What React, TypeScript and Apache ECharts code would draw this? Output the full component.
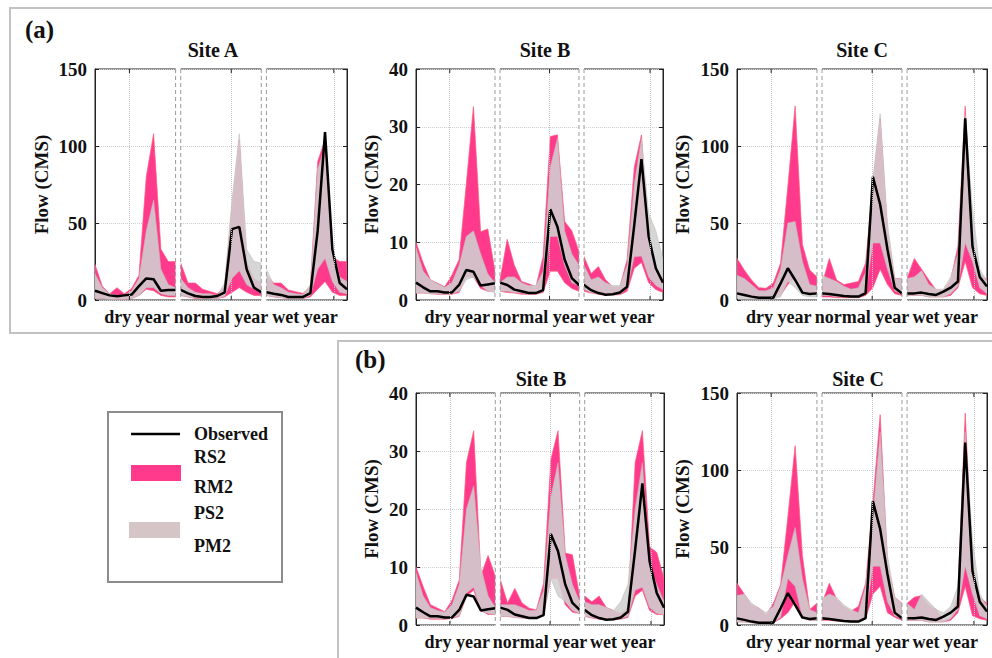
import React, { useEffect, useRef } from 'react';
import * as echarts from 'echarts';

const FONT = "'Liberation Serif', 'Times New Roman', Times, serif";
const PINK = '#ff3a8c';
const GREY_FILL = 'rgba(208,208,208,0.88)';
const YEAR_LABELS = ['dry year', 'normal year', 'wet year'];
const MONTHS = 12;
const YEAR_GAP = 0.7;
const X_MAX = 2 * (MONTHS - 1 + YEAR_GAP) + (MONTHS - 1);
// vertical reference lines (month axis units)
const MONTH_GRID_X = [4.7, 18.6, 32.6];

// ---------- Observed flow (dry, normal, wet years) ----------
const siteA_observed = [
  6, 4.5, 3, 2.5, 3, 3.5, 9, 14, 13.5, 6, 6.5, 6.5,
  6.5, 4.3, 2.6, 2, 2, 2.6, 5, 46, 47.5, 20, 8, 5,
  5, 4, 3.3, 2, 2, 2, 4.5, 45, 109, 33, 11, 7,
];
const siteB_observed = [
  3, 2.2, 1.5, 1.5, 1.3, 1.3, 2.6, 5.2, 4.9, 2.5, 2.7, 2.9,
  3, 2.6, 1.8, 1.5, 1.2, 1.2, 1.7, 15.7, 12.7, 7, 3.8, 2.6,
  2.6, 1.7, 1.2, 0.9, 1, 1.3, 2.3, 13, 24.4, 11, 5.5, 3,
];
const siteC_observed = [
  4.3, 3.3, 2.2, 1.5, 1.5, 1.5, 10.8, 20.6, 13, 4.8, 3.9, 4.3,
  4.3, 3.9, 3.3, 2.6, 2.2, 2.2, 4.5, 80, 62, 33, 8, 4.3,
  4.3, 4.3, 4.8, 3.9, 3.3, 5.4, 8, 12, 118, 35, 15, 8.7,
];

// ---------- (a) Site A ----------
const a_siteA_rsLow = [
  1, 1, 1, 0.5, 0.5, 1, 3, 7, 6, 3, 2, 2,
  3, 2, 1, 1, 1, 1, 2, 5, 8, 5, 3, 3,
  3, 2, 1.5, 1, 1, 1, 2, 7, 12, 5, 3, 3,
];
const a_siteA_rsHigh = [
  23, 9, 4, 8, 4, 7.5, 16, 80, 108, 33, 25, 25,
  24, 11, 11, 7, 5.5, 4, 9, 60, 104, 25, 14, 11,
  16, 11, 11, 6.5, 5.4, 4.3, 8.7, 90, 104, 28, 25, 25,
];
const a_siteA_psLow = [
  1, 1, 0.5, 0.5, 0.5, 1, 3, 8, 8, 4, 3, 3,
  3, 2, 1.5, 1, 1, 1, 2.5, 14, 19, 10, 7, 5,
  3, 2, 1.5, 1, 1, 1, 3, 20, 27, 12, 5, 4,
];
const a_siteA_psHigh = [
  17, 8, 4, 3, 3, 6, 14, 45, 65, 20, 10, 8,
  14, 8, 5, 4, 4, 3, 11, 65, 108, 33, 25, 24,
  20, 10, 8, 5, 4, 3.5, 10, 85, 100, 35, 15, 12,
];

// ---------- (a) Site B ----------
const a_siteB_rsLow = [
  1.2, 1.2, 1.1, 1, 1, 1, 1.3, 4, 4, 2, 1.5, 1.5,
  1.5, 1.3, 1.2, 1, 1, 1, 1.3, 5, 5, 3, 2, 1.5,
  1.5, 1.2, 1, 0.9, 0.9, 0.9, 1.5, 5.5, 6.5, 3, 1.8, 1.3,
];
const a_siteB_rsHigh = [
  10, 6.4, 3.5, 2.9, 2.3, 4.3, 7, 20, 33.5, 11.8, 12.3, 5,
  3.5, 10.5, 6, 3.2, 2.8, 2.3, 7.5, 28.3, 28.6, 13.6, 12, 8.4,
  7.5, 4.6, 5.8, 3.5, 2.3, 2.3, 7, 23, 28.6, 9.8, 5.8, 2.5,
];
const a_siteB_psLow = [
  1.2, 1.2, 1.1, 1.1, 1.1, 1.1, 1.5, 3.5, 4, 2.5, 1.5, 1.3,
  1.5, 1.5, 1.3, 1.2, 1.1, 1.1, 1.5, 11, 11, 6, 3, 2.5,
  1.8, 1.3, 1.1, 1, 1, 1, 2, 7.5, 7.6, 4, 2.5, 1.8,
];
const a_siteB_psHigh = [
  9, 5, 3.5, 2.8, 2.2, 3, 6, 11, 12, 8, 4.5, 3,
  3, 4, 4, 3, 2.5, 2.5, 5, 23, 28, 12, 8, 6,
  6, 3.5, 4, 3, 2.5, 2.5, 6, 20, 28, 15, 12, 7,
];

// ---------- (a) Site C ----------
const a_siteC_rsLow = [
  3, 2.5, 2, 1.5, 1.5, 1.5, 3, 10, 15, 6, 4, 4,
  2, 2, 1.5, 1.5, 1.5, 1.5, 3, 8, 20, 10, 4, 3,
  3, 3, 3, 2, 2, 2, 3, 8, 25, 8, 4, 3,
];
const a_siteC_rsHigh = [
  27, 19.5, 13, 8, 7.6, 11, 24, 74, 126, 36, 19.5, 15,
  10, 27, 13, 10, 11, 12, 24, 75, 118, 45, 14, 14,
  14, 27, 20, 13, 6.5, 6.5, 13, 35, 126, 37, 17, 13,
];
const a_siteC_psLow = [
  1, 1, 0.8, 0.7, 0.7, 0.7, 2, 12, 8, 3, 2, 2,
  3, 3, 2, 2, 2, 2, 4, 37, 37, 20, 6, 4,
  3, 3, 3, 2, 2, 2, 4, 9, 37, 25, 8, 4,
];
const a_siteC_psHigh = [
  16, 14, 10, 6, 6, 8, 20, 50, 51, 25, 10, 9,
  16, 14, 12, 9, 7, 8, 18, 78, 121, 50, 14, 14,
  14, 15, 19, 10, 7, 7, 15, 30, 120, 60, 20, 12,
];

// ---------- (b) Site B ----------
const b_siteB_rsLow = [
  1.2, 1.2, 1, 1, 1, 1.1, 1.5, 5, 6, 2.5, 1.8, 1.8,
  1.5, 1.5, 1.3, 1.2, 1.2, 1.2, 1.8, 8, 8, 3.5, 2.2, 2,
  1.5, 1.2, 1, 0.9, 0.9, 1, 1.3, 5, 6, 2.5, 1.8, 1.8,
];
const b_siteB_rsHigh = [
  10, 6.6, 3.5, 2.9, 2.3, 4.3, 7.8, 28, 33.5, 8.5, 12, 8.4,
  7.8, 3.8, 6.3, 3.8, 2.9, 2.6, 7.2, 28.5, 33.5, 12.4, 12.1, 4.9,
  5, 4, 5, 3, 2.5, 2, 3, 28, 33.5, 13.5, 12.5, 8,
];
const b_siteB_psLow = [
  1.2, 1.2, 1.1, 1.1, 1.1, 1.2, 1.6, 5.5, 6.5, 2.5, 2, 1.8,
  1.5, 1.5, 1.3, 1.2, 1.2, 1.2, 1.8, 8, 5, 4, 2.5, 2,
  1.5, 1.3, 1.1, 1, 1, 1.1, 1.5, 6, 6.5, 3, 2, 1.8,
];
const b_siteB_psHigh = [
  9, 5, 3, 2.5, 2.2, 3.5, 7, 20, 24, 10, 5, 3,
  3.5, 3.5, 3.5, 3, 2.5, 2.5, 6, 22, 28, 12, 7, 4,
  4, 3.5, 3.5, 3, 2.5, 4, 7, 20, 28, 10, 7, 4,
];

// ---------- (b) Site C ----------
const b_siteC_rsLow = [
  2, 2, 1.5, 1, 1, 1.5, 4, 8, 15, 5, 3, 3,
  3, 3, 2.5, 2.5, 2, 2, 4, 20, 25, 8, 5, 3,
  3, 3, 3, 2, 2, 2, 3, 8, 25, 6, 4, 3,
];
const b_siteC_rsHigh = [
  27, 20, 13, 11, 6.5, 14, 26, 70, 116, 45, 10, 14,
  14, 27, 17, 12, 9, 12, 27, 79, 136, 40, 18, 14,
  14, 18, 19, 13, 10, 3, 5, 20, 137, 40, 18, 14,
];
const b_siteC_psLow = [
  2, 2, 1.5, 1, 1, 1.5, 5, 30, 25, 5, 3, 3,
  4, 4, 3, 3, 2.5, 2.5, 5, 38, 38, 15, 6, 4,
  3, 3, 3, 2, 2, 2, 4, 10, 38, 20, 6, 4,
];
const b_siteC_psHigh = [
  19, 20, 14, 11, 8, 12, 25, 45, 63, 30, 10, 8,
  17, 20, 18, 13, 10, 8, 25, 70, 125, 45, 18, 14,
  14, 10, 20, 15, 10, 8, 12, 25, 125, 55, 20, 12,
];

type Panel = {
  title: string;
  yMax: number;
  yStep: number;
  observed: number[];
  rsLow: number[];
  rsHigh: number[];
  psLow: number[];
  psHigh: number[];
};

const panels: Panel[] = [
  { title: 'Site A', yMax: 150, yStep: 50, observed: siteA_observed, rsLow: a_siteA_rsLow, rsHigh: a_siteA_rsHigh, psLow: a_siteA_psLow, psHigh: a_siteA_psHigh },
  { title: 'Site B', yMax: 40, yStep: 10, observed: siteB_observed, rsLow: a_siteB_rsLow, rsHigh: a_siteB_rsHigh, psLow: a_siteB_psLow, psHigh: a_siteB_psHigh },
  { title: 'Site C', yMax: 150, yStep: 50, observed: siteC_observed, rsLow: a_siteC_rsLow, rsHigh: a_siteC_rsHigh, psLow: a_siteC_psLow, psHigh: a_siteC_psHigh },
  { title: 'Site B', yMax: 40, yStep: 10, observed: siteB_observed, rsLow: b_siteB_rsLow, rsHigh: b_siteB_rsHigh, psLow: b_siteB_psLow, psHigh: b_siteB_psHigh },
  { title: 'Site C', yMax: 150, yStep: 50, observed: siteC_observed, rsLow: b_siteC_rsLow, rsHigh: b_siteC_rsHigh, psLow: b_siteC_psLow, psHigh: b_siteC_psHigh },
];

// plot-area placement of each panel
const layouts = [
  { left: 95, top: 69, width: 252, height: 231, titleX: 213, titleY: 50, nameGap: 44 },
  { left: 416, top: 69, width: 247, height: 231, titleX: 545, titleY: 50, nameGap: 35 },
  { left: 737, top: 69, width: 250, height: 231, titleX: 862, titleY: 50, nameGap: 45 },
  { left: 416, top: 393, width: 248, height: 232, titleX: 541, titleY: 379, nameGap: 35 },
  { left: 737, top: 393, width: 250, height: 232, titleX: 858, titleY: 379, nameGap: 45 },
];

const xAt = (i: number) => Math.floor(i / MONTHS) * (MONTHS - 1 + YEAR_GAP) + (i % MONTHS);
const pairs = (vals: number[]) => vals.map((v, i) => [xAt(i), v]);

const boldText = (size: number) => ({ fontFamily: FONT, fontWeight: 'bold' as const, fontSize: size, color: '#111' });

function textEl(text: string, x: number, y: number, size: number, align = 'left') {
  return {
    type: 'text',
    x,
    y,
    silent: true,
    z: 60,
    style: {
      text,
      fill: '#111',
      font: `bold ${size}px ${FONT}`,
      align,
      verticalAlign: 'middle',
      textAlign: align,
      textVerticalAlign: 'middle',
    },
  };
}

// one polygon per year, from the upper bound forward and the lower bound back
function bandSeries(k: number, hi: number[], lo: number[], fill: string, stroke: string, z: number) {
  return {
    type: 'custom',
    xAxisIndex: 2 * k,
    yAxisIndex: 2 * k,
    silent: true,
    z,
    clip: true,
    data: [0, 1, 2].map((yr) => [xAt(yr * MONTHS), 0, yr]),
    encode: { x: 0, y: 1 },
    renderItem: (_params: any, api: any) => {
      const yr = api.value(2);
      const pts: number[][] = [];
      for (let m = 0; m < MONTHS; m++) {
        const i = yr * MONTHS + m;
        pts.push(api.coord([xAt(i), hi[i]]));
      }
      for (let m = MONTHS - 1; m >= 0; m--) {
        const i = yr * MONTHS + m;
        pts.push(api.coord([xAt(i), lo[i]]));
      }
      return {
        type: 'polygon',
        shape: { points: pts },
        style: { fill, stroke, lineWidth: 0.7 },
      };
    },
  };
}

export default function App() {
  const ref = useRef<HTMLDivElement>(null);

  useEffect(() => {
    if (!ref.current) return;
    const chart = echarts.init(ref.current, undefined, { renderer: 'svg' });

    const grid: any[] = [];
    const xAxis: any[] = [];
    const yAxis: any[] = [];
    const series: any[] = [];

    panels.forEach((p, k) => {
      const L = layouts[k];
      grid.push({
        left: L.left,
        top: L.top,
        width: L.width,
        height: L.height,
        show: true,
        borderColor: '#222',
        borderWidth: 1,
        backgroundColor: 'transparent',
      });
      xAxis.push({
        type: 'value',
        gridIndex: k,
        min: 0,
        max: X_MAX,
        show: false,
      });
      xAxis.push({
        type: 'category',
        gridIndex: k,
        position: 'bottom',
        data: YEAR_LABELS,
        axisLine: { show: false },
        axisTick: { show: false },
        splitLine: { show: false },
        axisLabel: { ...boldText(18), margin: 8, interval: 0 },
      });
      yAxis.push({
        type: 'value',
        gridIndex: k,
        min: 0,
        max: p.yMax,
        interval: p.yStep,
        name: 'Flow (CMS)',
        nameLocation: 'middle',
        nameGap: L.nameGap,
        nameRotate: 90,
        nameTextStyle: boldText(19),
        axisLine: { show: true, lineStyle: { color: '#222', width: 1 } },
        axisTick: { show: true, inside: true, length: 4, lineStyle: { color: '#222' } },
        axisLabel: { ...boldText(19), margin: 8 },
        splitLine: { show: true, lineStyle: { type: 'dotted', color: '#cfcfcf', width: 1 } },
      });
      yAxis.push({
        type: 'value',
        gridIndex: k,
        position: 'right',
        min: 0,
        max: p.yMax,
        interval: p.yStep,
        axisLine: { show: true, lineStyle: { color: '#222', width: 1 } },
        axisTick: { show: true, inside: true, length: 4, lineStyle: { color: '#222' } },
        axisLabel: { show: false },
        splitLine: { show: false },
      });

      const axes = { xAxisIndex: 2 * k, yAxisIndex: 2 * k };
      // carrier for the dotted vertical grid lines, drawn beneath the bands
      series.push({
        type: 'line',
        ...axes,
        data: pairs(p.observed),
        symbol: 'none',
        silent: true,
        lineStyle: { opacity: 0 },
        z: 0,
        markLine: {
          silent: true,
          symbol: 'none',
          label: { show: false },
          lineStyle: { type: 'dotted', color: '#c4c4c4', width: 1 },
          data: MONTH_GRID_X.map((x) => ({ xAxis: x })),
        },
      });
      series.push(bandSeries(k, p.rsHigh, p.rsLow, PINK, '#ff5a78', 1));
      series.push(bandSeries(k, p.psHigh, p.psLow, GREY_FILL, 'rgba(195,185,185,0.8)', 2));
      series.push({
        type: 'line',
        ...axes,
        data: pairs(p.observed),
        symbol: 'none',
        silent: true,
        lineStyle: { color: '#000', width: 2.5 },
        z: 4,
      });
    });

    chart.setOption({
      animation: false,
      backgroundColor: '#fff',
      grid,
      xAxis,
      yAxis,
      series,
    });

    // Year separators, box ticks and annotations, placed through the axes' scales
    const graphics: any[] = [];
    panels.forEach((p, k) => {
      const finder = { xAxisIndex: 2 * k, yAxisIndex: 2 * k };
      const top = (chart.convertToPixel(finder, [0, p.yMax]) as number[])[1];
      const bottom = (chart.convertToPixel(finder, [0, 0]) as number[])[1];
      for (let g = 1; g < 3; g++) {
        const x1 = g * (MONTHS - 1 + YEAR_GAP);
        const x0 = x1 - YEAR_GAP;
        const p0 = (chart.convertToPixel(finder, [x0, 0]) as number[])[0];
        const p1 = (chart.convertToPixel(finder, [x1, 0]) as number[])[0];
        graphics.push({
          type: 'rect',
          silent: true,
          z: 50,
          shape: { x: p0, y: top - 2, width: p1 - p0, height: bottom - top + 4 },
          style: { fill: '#fff' },
        });
        [p0, p1].forEach((px) =>
          graphics.push({
            type: 'line',
            silent: true,
            z: 51,
            shape: { x1: px, y1: top, x2: px, y2: bottom },
            style: { stroke: '#9a9a9a', lineWidth: 1, lineDash: [4, 3] },
          })
        );
      }
      MONTH_GRID_X.forEach((x) => {
        const px = (chart.convertToPixel(finder, [x, 0]) as number[])[0];
        graphics.push({ type: 'line', silent: true, z: 52, shape: { x1: px, y1: top, x2: px, y2: top + 4 }, style: { stroke: '#222', lineWidth: 1 } });
        graphics.push({ type: 'line', silent: true, z: 52, shape: { x1: px, y1: bottom, x2: px, y2: bottom - 4 }, style: { stroke: '#222', lineWidth: 1 } });
      });
      const L = layouts[k];
      graphics.push(textEl(p.title, L.titleX, L.titleY, 20, 'center'));
    });

    // panel frames and tags
    graphics.push({ type: 'rect', silent: true, z: 40, shape: { x: 10, y: 8, width: 1000, height: 325 }, style: { fill: 'none', stroke: '#c2c2c2', lineWidth: 2 } });
    graphics.push({ type: 'rect', silent: true, z: 40, shape: { x: 338, y: 341, width: 700, height: 330 }, style: { fill: 'none', stroke: '#c2c2c2', lineWidth: 2 } });
    graphics.push(textEl('(a)', 25, 29, 25));
    graphics.push(textEl('(b)', 355, 359, 25));

    // legend
    graphics.push({ type: 'rect', silent: true, z: 40, shape: { x: 108, y: 412, width: 174, height: 170 }, style: { fill: '#fff', stroke: '#8c8c8c', lineWidth: 2 } });
    graphics.push({ type: 'line', silent: true, z: 41, shape: { x1: 131, y1: 434, x2: 180, y2: 434 }, style: { stroke: '#000', lineWidth: 2.5 } });
    graphics.push({ type: 'rect', silent: true, z: 41, shape: { x: 131, y: 465, width: 50, height: 16 }, style: { fill: PINK } });
    graphics.push({ type: 'rect', silent: true, z: 41, shape: { x: 129, y: 522, width: 51, height: 16 }, style: { fill: '#d6c5c6' } });
    graphics.push(textEl('Observed', 194, 434, 18));
    graphics.push(textEl('RS2', 194, 457, 18));
    graphics.push(textEl('RM2', 194, 487, 18));
    graphics.push(textEl('PS2', 194, 513, 18));
    graphics.push(textEl('PM2', 194, 546, 18));

    chart.setOption({ graphic: graphics });

    return () => chart.dispose();
  }, []);

  return (
    <div
      ref={ref}
      style={{ position: 'fixed', left: 0, top: 0, width: 992, height: 658, background: '#fff' }}
    />
  );
}
